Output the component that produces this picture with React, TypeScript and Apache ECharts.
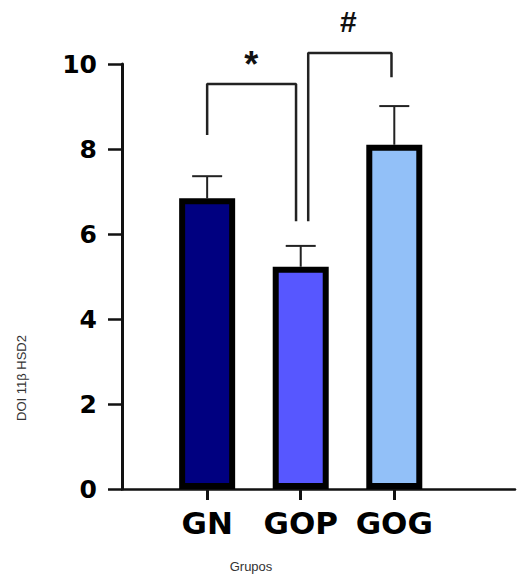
import React, { useEffect, useRef } from "react";
import * as echarts from "echarts";

const categories = ["GN", "GOP", "GOG"];
const positions = [1, 2, 3];
const means = [6.84, 5.23, 8.1];
const upperErr = [7.36, 5.72, 9.01];
const barColors = ["#000080", "#5757ff", "#92c0f8"];
const yTicks = [0, 2, 4, 6, 8, 10];

const bracketStar = [[1, 8.33], [1, 9.53], [1.95, 9.53], [1.95, 6.3]];
const bracketHash = [[2.08, 6.3], [2.08, 10.26], [2.97, 10.26], [2.97, 9.69]];
const marks = [
  { x: 1.47, y: 10.0, text: "*" },
  { x: 2.51, y: 10.99, text: "#" },
];

const FONT = "'DejaVu Sans', Arial, sans-serif";
const SMALL = "'Liberation Sans', Arial, sans-serif";

export default function App() {
  const ref = useRef<HTMLDivElement>(null);
  useEffect(() => {
    document.body.style.margin = "0";
    const chart = echarts.init(ref.current!, null, { renderer: "svg" });
    const option: any = {
      animation: false,
      backgroundColor: "#ffffff",
      grid: { left: 122, right: 2, top: 64, bottom: 88, containLabel: false },
      xAxis: {
        type: "value",
        min: 0.09,
        max: 4.29,
        splitLine: { show: false },
        axisLine: { show: true, lineStyle: { color: "#111", width: 2.5 } },
        axisTick: {
          show: true,
          customValues: positions,
          length: 11,
          lineStyle: { color: "#111", width: 3 },
        },
        axisLabel: {
          customValues: positions,
          formatter: (v: number) => categories[Math.round(v) - 1] ?? "",
          fontFamily: FONT,
          fontWeight: "bold",
          fontSize: 31,
          color: "#000",
          margin: 18,
        },
      },
      yAxis: {
        type: "value",
        min: 0,
        max: 10,
        interval: 2,
        splitLine: { show: false },
        axisLine: { show: true, lineStyle: { color: "#111", width: 3 } },
        axisTick: { show: true, length: 14, lineStyle: { color: "#111", width: 2.5 } },
        axisLabel: {
          customValues: yTicks,
          fontFamily: FONT,
          fontWeight: "bold",
          fontSize: 25,
          color: "#000",
          margin: 25,
        },
      },
      series: [
        {
          type: "custom",
          z: 1,
          clip: false,
          data: positions.map((p, i) => [p, means[i], upperErr[i]]),
          renderItem: (params: any, api: any) => {
            const x = api.value(0);
            const top = api.coord([x, api.value(1)]);
            const cap = api.coord([x, api.value(2)]);
            return {
              type: "group",
              children: [
                {
                  type: "line",
                  shape: { x1: top[0], y1: top[1], x2: cap[0], y2: cap[1] },
                  style: { stroke: "#222", lineWidth: 2 },
                },
                {
                  type: "line",
                  shape: { x1: cap[0] - 15, y1: cap[1], x2: cap[0] + 15, y2: cap[1] },
                  style: { stroke: "#222", lineWidth: 2 },
                },
              ],
            };
          },
        },
        {
          type: "bar",
          z: 2,
          barWidth: 56,
          data: positions.map((p, i) => ({
            value: [p, means[i]],
            itemStyle: { color: barColors[i], borderColor: "#000", borderWidth: 6 },
          })),
        },
        {
          type: "line",
          clip: false,
          symbol: "none",
          data: bracketStar,
          lineStyle: { color: "#222", width: 2.5 },
        },
        {
          type: "line",
          clip: false,
          symbol: "none",
          data: bracketHash,
          lineStyle: { color: "#222", width: 2.5 },
        },
        {
          type: "custom",
          clip: false,
          data: marks.map((m) => [m.x, m.y]),
          renderItem: (params: any, api: any) => {
            const pt = api.coord([api.value(0), api.value(1)]);
            const m = marks[params.dataIndex];
            return {
              type: "text",
              x: pt[0],
              y: pt[1],
              style: {
                text: m.text,
                fontFamily: SMALL,
                fontWeight: "bold",
                fontSize: m.text === "*" ? 36 : 30,
                fill: "#111",
                align: "center",
                verticalAlign: "middle",
              },
            };
          },
        },
      ],
      graphic: [
        {
          type: "text",
          x: 21,
          y: 378,
          rotation: Math.PI / 2,
          style: {
            text: "DOI 11β HSD2",
            fontFamily: SMALL,
            fontSize: 13,
            fill: "#333",
            align: "center",
            verticalAlign: "middle",
          },
        },
        {
          type: "text",
          x: 251,
          y: 566,
          style: {
            text: "Grupos",
            fontFamily: SMALL,
            fontSize: 13,
            fill: "#333",
            align: "center",
            verticalAlign: "middle",
          },
        },
      ],
    };
    chart.setOption(option);
    return () => chart.dispose();
  }, []);
  return (
    <div
      ref={ref}
      style={{ position: "absolute", left: 0, top: 0, width: 517, height: 577 }}
    />
  );
}
